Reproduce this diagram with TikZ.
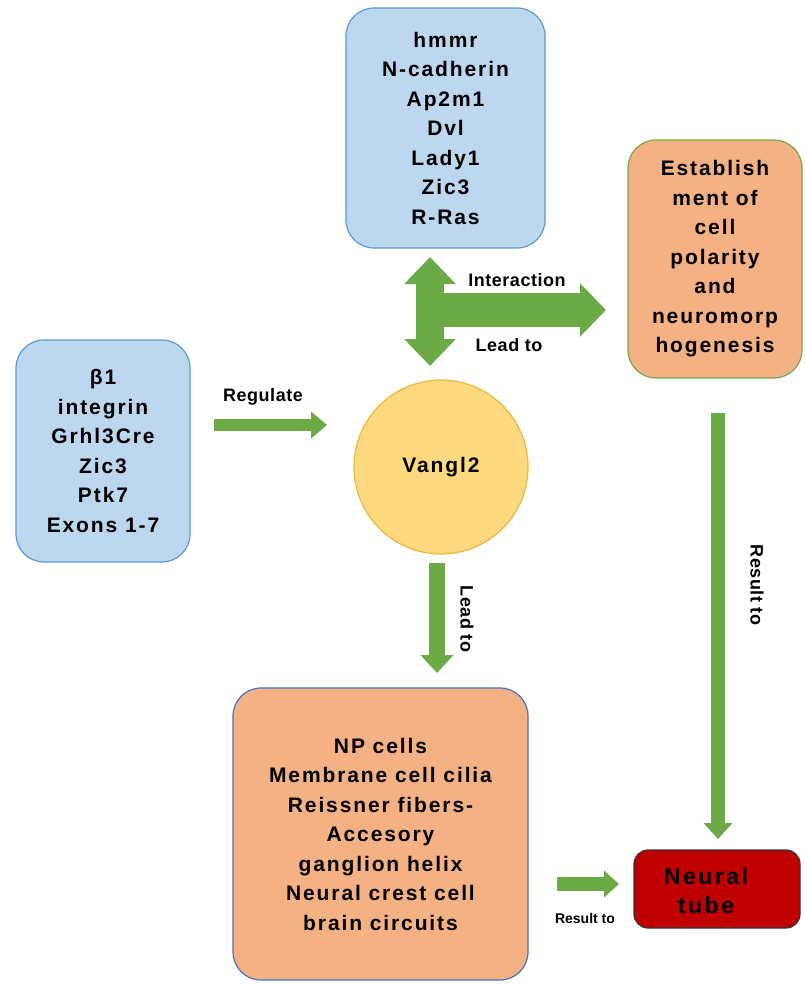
\documentclass[tikz,border=0pt]{standalone}
\usepackage{fontspec}
\setmainfont{Liberation Sans}
\newfontfamily\boxfont[LetterSpace=9]{Liberation Sans}
\newfontfamily\lblfont[LetterSpace=3]{Liberation Sans}
\usetikzlibrary{arrows.meta}
\definecolor{bfill}{HTML}{BDD7EE}
\definecolor{bline}{HTML}{5B9BD5}
\definecolor{ofill}{HTML}{F4B183}
\definecolor{gline}{HTML}{70AD47}
\definecolor{dblue}{HTML}{4472C4}
\definecolor{cfill}{HTML}{FFD97F}
\definecolor{cline}{HTML}{F2B63A}
\definecolor{redfill}{HTML}{C00000}
\definecolor{garrow}{HTML}{6BAA45}
\tikzset{
  x=1pt, y=-1pt,
  boxtext/.style={font=\boxfont\bfseries\fontsize{21}{29.5}\selectfont, align=center, text=black},
  bluebox/.style={boxtext, draw=bline, line width=1.2pt, fill=bfill, rounded corners=28pt, inner sep=0pt},
  orangebox/.style={boxtext, fill=ofill, line width=1.2pt, rounded corners=28pt, inner sep=0pt},
  lbl/.style={font=\lblfont\bfseries\fontsize{18}{20}\selectfont, inner sep=0pt},
  garr/.style={draw=garrow, line cap=butt},
}
\begin{document}
\begin{tikzpicture}
\useasboundingbox[fill=white] (0,0) rectangle (804,984);
% boxes
\node[bluebox, minimum width=199pt, minimum height=240pt] (top) at (445.5,128)
  {hmmr\\N-cadherin\\Ap2m1\\Dvl\\Lady1\\Zic3\\R-Ras};
\node[bluebox, minimum width=174pt, minimum height=222pt] (left) at (103,451)
  {β1\\integrin\\Grhl3Cre\\Zic3\\Ptk7\\Exons 1-7};
\node[orangebox, draw=gline, minimum width=174pt, minimum height=238pt] (pol) at (715,259)
  {Establish\\ment of\\cell\\polarity\\and\\neuromorp\\hogenesis};
\node[circle, draw=cline, line width=1.2pt, fill=cfill, minimum size=174pt, boxtext] (vangl) at (441,467) {Vangl2};
\node[orangebox, draw=dblue, minimum width=295pt, minimum height=292pt] (np) at (380.5,834)
  {NP cells\\Membrane cell cilia\\Reissner fibers-\\Accesory\\ganglion helix\\Neural crest cell\\brain circuits};
\node[draw=black!80, fill=redfill, line width=1.2pt, rounded corners=14pt, minimum width=166pt, minimum height=78pt, inner sep=0pt] (tube) at (717,889) {};
\node[boxtext, inner sep=0pt, font=\boxfont\bfseries\fontsize{23}{29}\selectfont\addfontfeatures{LetterSpace=11}] (tubetxt) at (706,891)
  {Neural\\tube};
% arrow end points
\coordinate (r1) at (214,425); \coordinate (r2) at (327,425);
\coordinate (l1) at (437,563); \coordinate (l2) at (437,673);
\coordinate (v1) at (430,257); \coordinate (v2) at (430,366);
\coordinate (h1) at (440,310); \coordinate (h2) at (606,310);
\coordinate (s1) at (718,413); \coordinate (s2) at (718,839);
\coordinate (b1) at (557,884); \coordinate (b2) at (619,884);
% arrows
\draw[garr, line width=12pt, -{Triangle[width=26pt,length=16pt]}] (r1) -- (r2);
\draw[garr, line width=16pt, -{Triangle[width=32pt,length=18pt]}] (l1) -- (l2);
\draw[garr, line width=34pt, -{Triangle[width=52pt,length=26pt]}] (h1) -- (h2);
\draw[garr, line width=28pt, {Triangle[width=50pt,length=27pt]}-{Triangle[width=50pt,length=27pt]}] (v1) -- (v2);
\draw[garr, line width=14pt, -{Triangle[width=28pt,length=16pt]}] (s1) -- (s2);
\draw[garr, line width=14pt, -{Triangle[width=26pt,length=15pt]}] (b1) -- (b2);
% labels
\node[lbl] (reg) at (263,397) {Regulate};
\node[lbl] (inter) at (517,280) {Interaction};
\node[lbl] (lead1) at (509,345) {Lead to};
\node[lbl, rotate=-90] (lead2) at (467,619) {Lead to};
\node[lbl, rotate=-90] (res1) at (757,585) {Result to};
\node[lbl, font=\lblfont\bfseries\fontsize{14}{16}\selectfont\addfontfeatures{LetterSpace=0}] (res2) at (585,918) {Result to};
\end{tikzpicture}
\end{document}
